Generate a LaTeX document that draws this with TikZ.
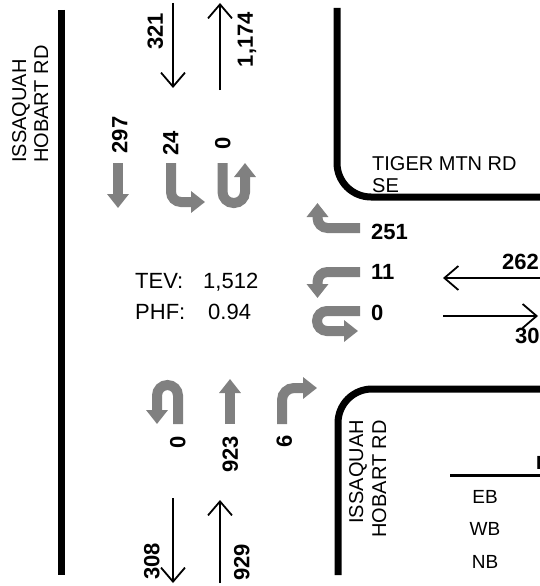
\documentclass[tikz,border=0pt]{standalone}
\usepackage{fontspec}
\setmainfont{Liberation Sans}
\usetikzlibrary{arrows.meta}
\definecolor{arrgray}{HTML}{808080}
\begin{document}
\begin{tikzpicture}[x=1pt,y=-1pt,
  road/.style={line width=7pt},
  garrow/.style={arrgray, line width=10pt, -{Triangle[length=14pt,width=21pt]}, rounded corners=10pt},
  thinarrow/.style={line width=1.8pt, -{Straight Barb[length=14pt,width=24pt]}},
  num/.style={font=\fontsize{22}{26}\selectfont\bfseries, inner sep=0pt, text height=15.8pt, text depth=0pt},
  roadlbl/.style={font=\fontsize{20}{22}\selectfont, inner sep=0pt},
  info/.style={font=\fontsize{22}{26}\selectfont, inner sep=0pt, anchor=base west},
  legend/.style={font=\fontsize{19}{22}\selectfont, inner sep=0pt, anchor=base}
]
\useasboundingbox (0,0) rectangle (540,586);
\fill[white] (0,0) rectangle (540,586);
\clip (0,0) rectangle (540,586);

% roads
\draw[road] (61,10) -- (61,575);
\draw[road, rounded corners=34pt] (337,8) -- (337,197) -- (545,197);
\draw[road, rounded corners=34pt] (545,389) -- (338,389) -- (338,575);

% road labels
\node[roadlbl, rotate=90, anchor=base west] (lA) at (26,163) {ISSAQUAH};
\node[roadlbl, rotate=90, anchor=base west] (lB) at (48,163) {HOBART RD};
\node[roadlbl, anchor=base west] (t1) at (372,170) {TIGER MTN RD};
\node[roadlbl, anchor=base west] (t2) at (372,192) {SE};
\node[roadlbl, rotate=90, anchor=base east] (rA) at (363,420) {ISSAQUAH};
\node[roadlbl, rotate=90, anchor=base east] (rB) at (386,420) {HOBART RD};

% approach / departure volumes
\draw[thinarrow] (173,3) -- (173,88);
\draw[thinarrow] (220,90) -- (220,3);
\draw[thinarrow] (545,278) -- (443,278);
\draw[thinarrow] (443,316) -- (538,316);
\draw[thinarrow] (173,498) -- (173,583);
\draw[thinarrow] (220,583) -- (220,500);

% turning movement arrows
\draw[garrow] (118,163) -- (118,208);
\draw[garrow] (171,163) -- (171,202) -- (205,202);
\draw[garrow, rounded corners=11pt] (222.5,163) -- (222.5,203) -- (245,203) -- (245,163);
\draw[garrow] (360,228) -- (317.5,228) -- (317.5,203);
\draw[garrow] (360,272) -- (317.5,272) -- (317.5,298);
\draw[garrow] (360,311) -- (317,311) -- (317,331) -- (358,331);
\draw[garrow, rounded corners=10.5pt] (178,424) -- (178,385) -- (157,385) -- (157,424);
\draw[garrow] (230,424) -- (230,379);
\draw[garrow, rounded corners=12pt] (282,424) -- (282,388) -- (317,388);

% numbers
\node[num, rotate=90] (n321) at (155,31.5) {321};
\node[num, rotate=90] (n1174) at (245,39.5) {1,174};
\node[num, rotate=90] (n297) at (119.5,135) {297};
\node[num, rotate=90] (n24) at (170.5,143) {24};
\node[num, rotate=90] (n0s) at (222.5,143) {0};
\node[num, anchor=west] (n251) at (371,231.5) {251};
\node[num, anchor=west] (n11) at (371,271.5) {11};
\node[num, anchor=west] (n0w) at (371,312.5) {0};
\node[num, anchor=west] (n262) at (502,262) {262};
\node[num, anchor=west] (n30) at (515,335.5) {30};
\node[num, rotate=90] (n0n) at (177.5,442) {0};
\node[num, rotate=90] (n923) at (230,454.5) {923};
\node[num, rotate=90] (n6) at (284,441) {6};
\node[num, rotate=90] (n308) at (151.5,561.5) {308};
\node[num, rotate=90] (n929) at (241.5,562.5) {929};

% TEV / PHF
\node[info] (tev) at (135,288) {TEV:};
\node[info] (tevv) at (203,288) {1,512};
\node[info] (phf) at (135,319) {PHF:};
\node[info] (phfv) at (208,319) {0.94};

% legend table (partly outside)
\draw[line width=3pt] (450,475) -- (545,475);
\node[legend, anchor=base west, font=\fontsize{19}{22}\selectfont\bfseries] (hh) at (536,469) {H};
\node[legend] (eb) at (485,503) {EB};
\node[legend] (wb) at (485,535) {WB};
\node[legend] (nb) at (485,568) {NB};
\end{tikzpicture}
\end{document}
